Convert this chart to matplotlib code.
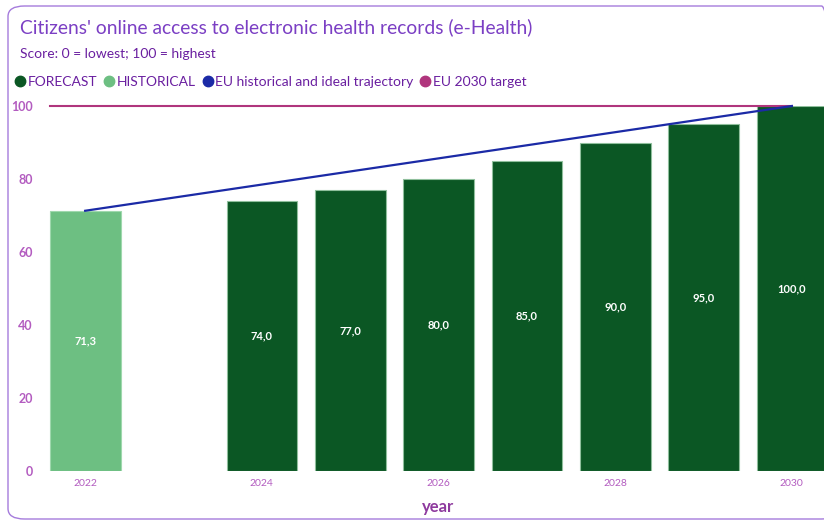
import matplotlib
matplotlib.use("Agg")
import matplotlib.pyplot as plt
from matplotlib.lines import Line2D
from matplotlib.patches import FancyBboxPatch

plt.rcParams['font.family'] = ['Lato', 'DejaVu Sans']

# Data
hist_years = [2022]
hist_values = [71.3]
fc_years = [2024, 2025, 2026, 2027, 2028, 2029, 2030]
fc_values = [74.0, 77.0, 80.0, 85.0, 90.0, 95.0, 100.0]
traj_years = [2022, 2030]
traj_values = [71.3, 100.0]
target_years = [2021.6, 2030]
target_value = 100
x_ticks = [2022, 2024, 2026, 2028, 2030]
y_ticks = [0, 20, 40, 60, 80, 100]

C_FC = '#0b5724'
C_HIST = '#6dbf82'
C_TRAJ = '#1b2aa6'
C_TARGET = '#b0357d'
C_TITLE = '#7b3fc4'
C_SUB = '#6a1fa0'
C_TICK = '#b35cc0'
C_XLAB = '#8e3a9e'

fig = plt.figure(figsize=(8.24, 5.21), dpi=100)

# rounded frame
frame = FancyBboxPatch((8 / 824, 2 / 521), 830 / 824, 513 / 521,
                       boxstyle="round,pad=0,rounding_size=0.02",
                       transform=fig.transFigure, fill=False,
                       edgecolor='#a57bdc', linewidth=1.0)
fig.add_artist(frame)

fig.text(20 / 824, 1 - 27 / 521, "Citizens' online access to electronic health records (e-Health)",
         color=C_TITLE, fontsize=13.9, va='center', ha='left')
fig.text(20 / 824, 1 - 54 / 521, "Score: 0 = lowest; 100 = highest",
         color=C_SUB, fontsize=10, va='center', ha='left')

handles = [
    Line2D([], [], marker='o', linestyle='none', color=C_FC, markersize=7.5),
    Line2D([], [], marker='o', linestyle='none', color=C_HIST, markersize=7.5),
    Line2D([], [], marker='o', linestyle='none', color=C_TRAJ, markersize=7.5),
    Line2D([], [], marker='o', linestyle='none', color=C_TARGET, markersize=7.5),
]
labels = ['FORECAST', 'HISTORICAL', 'EU historical and ideal trajectory', 'EU 2030 target']
leg = fig.legend(handles, labels, loc='center left', bbox_to_anchor=(16 / 824, 1 - 82 / 521),
                 ncol=4, frameon=False, handlelength=0.6, handletextpad=0.25,
                 columnspacing=0.55, fontsize=10, borderaxespad=0, borderpad=0)
for t in leg.get_texts():
    t.set_color(C_SUB)

ax = fig.add_axes([41 / 824, 1 - 471 / 521, 795 / 824, 365 / 521])
ax.set_xlim(2021.5, 2030.5)
ax.set_ylim(0, 100)

ax.bar(hist_years, hist_values, width=0.8, color=C_HIST, edgecolor='#9fd8ad', linewidth=0.8, zorder=2)
ax.bar(fc_years, fc_values, width=0.8, color=C_FC, edgecolor='#8fbf9c', linewidth=0.8, zorder=2)

for x, v in zip(hist_years + fc_years, hist_values + fc_values):
    ax.text(x, v / 2, f"{v:.1f}".replace('.', ','), color='white', fontsize=8,
            fontweight='bold', ha='center', va='center', zorder=4)

ax.plot(target_years, [target_value] * len(target_years), color=C_TARGET, linewidth=1.5,
        clip_on=False, zorder=3)
ax.plot(traj_years, traj_values, color=C_TRAJ, linewidth=1.6, clip_on=False, zorder=3)

for s in ax.spines.values():
    s.set_visible(False)
ax.set_xticks(x_ticks)
ax.set_xticklabels([str(x) for x in x_ticks])
ax.set_yticks(y_ticks)
ax.tick_params(axis='both', length=0)
ax.tick_params(axis='x', colors=C_TICK, labelsize=7.5, pad=6)
ax.tick_params(axis='y', colors=C_TICK, labelsize=9, pad=6)
for lab in ax.get_yticklabels():
    lab.set_fontweight('bold')
ax.set_xlabel('year', color=C_XLAB, fontsize=12, fontweight='bold', labelpad=8)

fig.savefig('out.png', dpi=100)
